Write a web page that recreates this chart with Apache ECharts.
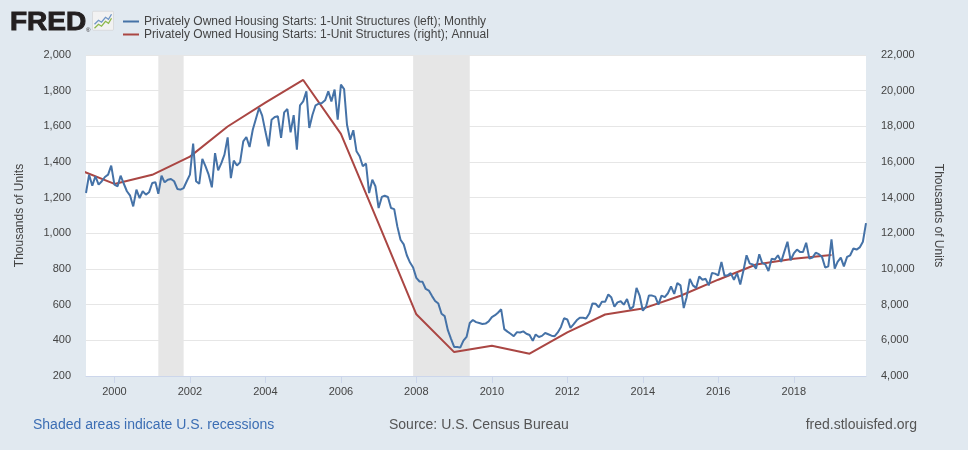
<!DOCTYPE html>
<html>
<head>
	<meta charset="utf-8">
	<title>Housing Starts: 1-Unit Structures</title>
	<style>
		html, body { margin: 0; padding: 0; background: #e1e9f0; }
		#main_echarts { width: 968px; height: 450px; }
	</style>
</head>
<body>
<div id="main_echarts"></div>
<script src="https://cdn.jsdelivr.net/npm/echarts@6/dist/echarts.min.js"></script>
<script>
	// monthly series starts here, one value per month
	var monthlyStart = [1999, 4];
	// thousands of units, SAAR (by year)
	var monthly1999 = [1226, 1329, 1267, 1320, 1273, 1292, 1316, 1329, 1380];
	var monthly2000 = [1273, 1264, 1323, 1278, 1236, 1211, 1151, 1245, 1198, 1236, 1217, 1230];
	var monthly2001 = [1282, 1286, 1222, 1323, 1286, 1301, 1305, 1292, 1249, 1245, 1254, 1292];
	var monthly2002 = [1329, 1503, 1292, 1278, 1417, 1376, 1329, 1258, 1450, 1353, 1394, 1441];
	var monthly2003 = [1538, 1310, 1408, 1380, 1398, 1516, 1540, 1484, 1581, 1641, 1703, 1660];
	var monthly2004 = [1572, 1488, 1637, 1652, 1656, 1535, 1678, 1697, 1566, 1663, 1469, 1718];
	var monthly2005 = [1740, 1796, 1591, 1665, 1718, 1727, 1731, 1746, 1796, 1740, 1806, 1637];
	var monthly2006 = [1834, 1809, 1609, 1525, 1578, 1460, 1432, 1376, 1391, 1226, 1301, 1264];
	var monthly2007 = [1142, 1204, 1211, 1204, 1142, 1136, 1039, 964, 938, 877, 836, 808];
	var monthly2008 = [750, 730, 728, 688, 679, 648, 621, 606, 549, 536, 457, 410];
	var monthly2009 = [363, 363, 359, 398, 419, 497, 514, 502, 497, 492, 494, 506];
	var monthly2010 = [530, 541, 555, 574, 463, 449, 437, 423, 446, 444, 450, 437];
	var monthly2011 = [430, 397, 433, 419, 425, 441, 434, 426, 423, 444, 475, 524];
	var monthly2012 = [517, 470, 489, 512, 527, 527, 522, 550, 607, 605, 585, 616];
	var monthly2013 = [616, 657, 642, 589, 613, 619, 600, 632, 575, 589, 694, 651];
	var monthly2014 = [566, 589, 651, 651, 645, 600, 651, 642, 664, 702, 660, 721];
	var monthly2015 = [708, 581, 642, 745, 708, 694, 758, 740, 745, 708, 777, 774];
	var monthly2016 = [764, 840, 764, 764, 777, 740, 777, 713, 792, 877, 830, 826];
	var monthly2017 = [802, 883, 834, 826, 789, 858, 853, 877, 840, 896, 953, 849];
	var monthly2018 = [887, 909, 896, 896, 947, 858, 864, 891, 883, 868, 808, 815];
	var monthly2019 = [966, 802, 840, 864, 815, 868, 877, 915, 909, 921, 953, 1057];

	// annual totals (right axis), dated Jan 1 of each year
	var annualYears = [1999, 2000, 2001, 2002, 2003, 2004, 2005, 2006, 2007, 2008, 2009,
		2010, 2011, 2012, 2013, 2014, 2015, 2016, 2017, 2018, 2019];
	var annualValues = [15620, 14770, 15280, 16300, 17990, 19330, 20600, 17580, 12550, 7460, 5340,
		5700, 5250, 6450, 7450, 7780, 8500, 9400, 10250, 10570, 10780];

	var recessions = [['2001-03-01', '2001-11-01'], ['2007-12-01', '2009-06-01']];
	var xTickYears = [2000, 2002, 2004, 2006, 2008, 2010, 2012, 2014, 2016, 2018];

	var axisMin = '1999-04-01';
	var axisMax = '2019-12-01';

	var monthlyAll = [].concat(monthly1999, monthly2000, monthly2001, monthly2002, monthly2003,
		monthly2004, monthly2005, monthly2006, monthly2007, monthly2008, monthly2009, monthly2010,
		monthly2011, monthly2012, monthly2013, monthly2014, monthly2015, monthly2016, monthly2017,
		monthly2018, monthly2019);

	function pad(n) { return n < 10 ? '0' + n : '' + n; }
	// dates -> timestamps, x axis is a plain value axis of ms
	function ts(s) { return +echarts.number.parseDate(s); }

	var monthlyData = [];
	for (var i = 0; i < monthlyAll.length; i++) {
		var k = monthlyStart[1] - 1 + i;
		var y = monthlyStart[0] + Math.floor(k / 12);
		var m = k % 12 + 1;
		monthlyData.push([ts(y + '-' + pad(m) + '-01'), monthlyAll[i]]);
	}
	var annualData = annualYears.map(function (yr, j) {
		return [ts(yr + '-01-01'), annualValues[j]];
	});
	var tickStamps = xTickYears.map(function (yr) { return ts(yr + '-01-01'); });

	var FONT = '"Liberation Sans", Arial, sans-serif';
	var LABEL = '#444';
	var fmt = function (v) { return echarts.format.addCommas(v); };

	var chartDom = document.getElementById('main_echarts');
	var myChart = echarts.init(chartDom);
	var option = {
		animation: false,
		backgroundColor: '#e1e9f0',
		textStyle: { fontFamily: FONT },
		grid: {
			left: 86, right: 102, top: 55, bottom: 74,
			show: true, backgroundColor: '#ffffff', borderWidth: 0
		},
		legend: {
			orient: 'vertical',
			left: 118, top: 10,
			itemWidth: 16, itemHeight: 2, itemGap: 0,
			icon: 'rect',
			textStyle: { fontFamily: FONT, fontSize: 12, color: LABEL, lineHeight: 13 },
			data: [
				'Privately Owned Housing Starts: 1-Unit Structures (left); Monthly',
				'Privately Owned Housing Starts: 1-Unit Structures (right); Annual'
			]
		},
		graphic: [
			// FRED logo
			{ type: 'text', x: 10, y: 23, scaleX: 1.12,
				style: { text: 'FRED', fontFamily: FONT, fontWeight: 'bold', fontSize: 25,
					fill: '#231f20', stroke: '#231f20', lineWidth: 0.9, verticalAlign: 'middle' } },
			{ type: 'text', x: 86, y: 30,
				style: { text: '®', fontFamily: FONT, fontSize: 6, fill: '#231f20', verticalAlign: 'middle' } },
			{ type: 'group', left: 92, top: 11, children: [
				{ type: 'rect', shape: { x: 0, y: 0, width: 21, height: 19, r: 1 },
					style: { fill: '#f2f2f2', stroke: '#c8c8c8', lineWidth: 0.5 } },
				{ type: 'polyline', shape: { points: [[2, 13], [6, 9], [9, 11], [13, 6], [16, 8], [19, 3]] },
					style: { stroke: '#6f95c5', lineWidth: 1.3, fill: null } },
				{ type: 'polyline', shape: { points: [[2, 17], [6, 13], [9, 15], [13, 10], [16, 12], [19, 7]] },
					style: { stroke: '#8cb84a', lineWidth: 1.3, fill: null } }
			] },
			// footer
			{ type: 'text', left: 33, top: 418,
				style: { text: 'Shaded areas indicate U.S. recessions', fontFamily: FONT, fontSize: 14, fill: '#3c6eb4' } },
			{ type: 'text', left: 389, top: 418,
				style: { text: 'Source: U.S. Census Bureau', fontFamily: FONT, fontSize: 14, fill: '#555' } },
			{ type: 'text', right: 51, top: 418,
				style: { text: 'fred.stlouisfed.org', fontFamily: FONT, fontSize: 14, fill: '#555' } }
		],
		xAxis: {
			type: 'value',
			min: ts(axisMin),
			max: ts(axisMax),
			axisLine: { lineStyle: { color: '#ccd6eb' } },
			axisTick: { show: true, length: 7, lineStyle: { color: '#ccd6eb' }, customValues: tickStamps },
			axisLabel: {
				color: LABEL, fontSize: 11, margin: 10, fontFamily: FONT,
				customValues: tickStamps,
				formatter: function (v) { return '' + new Date(v).getFullYear(); }
			},
			splitLine: { show: false }
		},
		yAxis: [
			{
				type: 'value', min: 200, max: 2000, interval: 200,
				name: 'Thousands of Units', nameLocation: 'middle', nameGap: 60,
				nameTextStyle: { color: LABEL, fontSize: 12, fontFamily: FONT },
				axisLine: { show: false }, axisTick: { show: false },
				axisLabel: { color: LABEL, fontSize: 11, margin: 15, fontFamily: FONT, formatter: fmt },
				splitLine: { lineStyle: { color: '#e6e6e6' } }
			},
			{
				type: 'value', min: 4000, max: 22000, interval: 2000, position: 'right',
				name: 'Thousands of Units', nameLocation: 'middle', nameGap: 66, nameRotate: -90,
				nameTextStyle: { color: LABEL, fontSize: 12, fontFamily: FONT },
				axisLine: { show: false }, axisTick: { show: false },
				axisLabel: { color: LABEL, fontSize: 11, margin: 15, fontFamily: FONT, formatter: fmt },
				splitLine: { show: false }
			}
		],
		series: [
			{
				name: 'recessions', type: 'line', data: [], z: 1, silent: true,
				markArea: {
					silent: true,
					itemStyle: { color: '#e6e6e6' },
					data: recessions.map(function (r) { return [{ xAxis: ts(r[0]) }, { xAxis: ts(r[1]) }]; })
				}
			},
			{
				name: 'Privately Owned Housing Starts: 1-Unit Structures (left); Monthly',
				type: 'line', yAxisIndex: 0, showSymbol: false, z: 3,
				data: monthlyData,
				itemStyle: { color: '#4572a7' },
				lineStyle: { color: '#4572a7', width: 2 }
			},
			{
				name: 'Privately Owned Housing Starts: 1-Unit Structures (right); Annual',
				type: 'line', yAxisIndex: 1, showSymbol: false, z: 2,
				data: annualData,
				itemStyle: { color: '#aa4643' },
				lineStyle: { color: '#aa4643', width: 2 }
			}
		]
	};
	option && myChart.setOption(option);
</script>
</body>
</html>
